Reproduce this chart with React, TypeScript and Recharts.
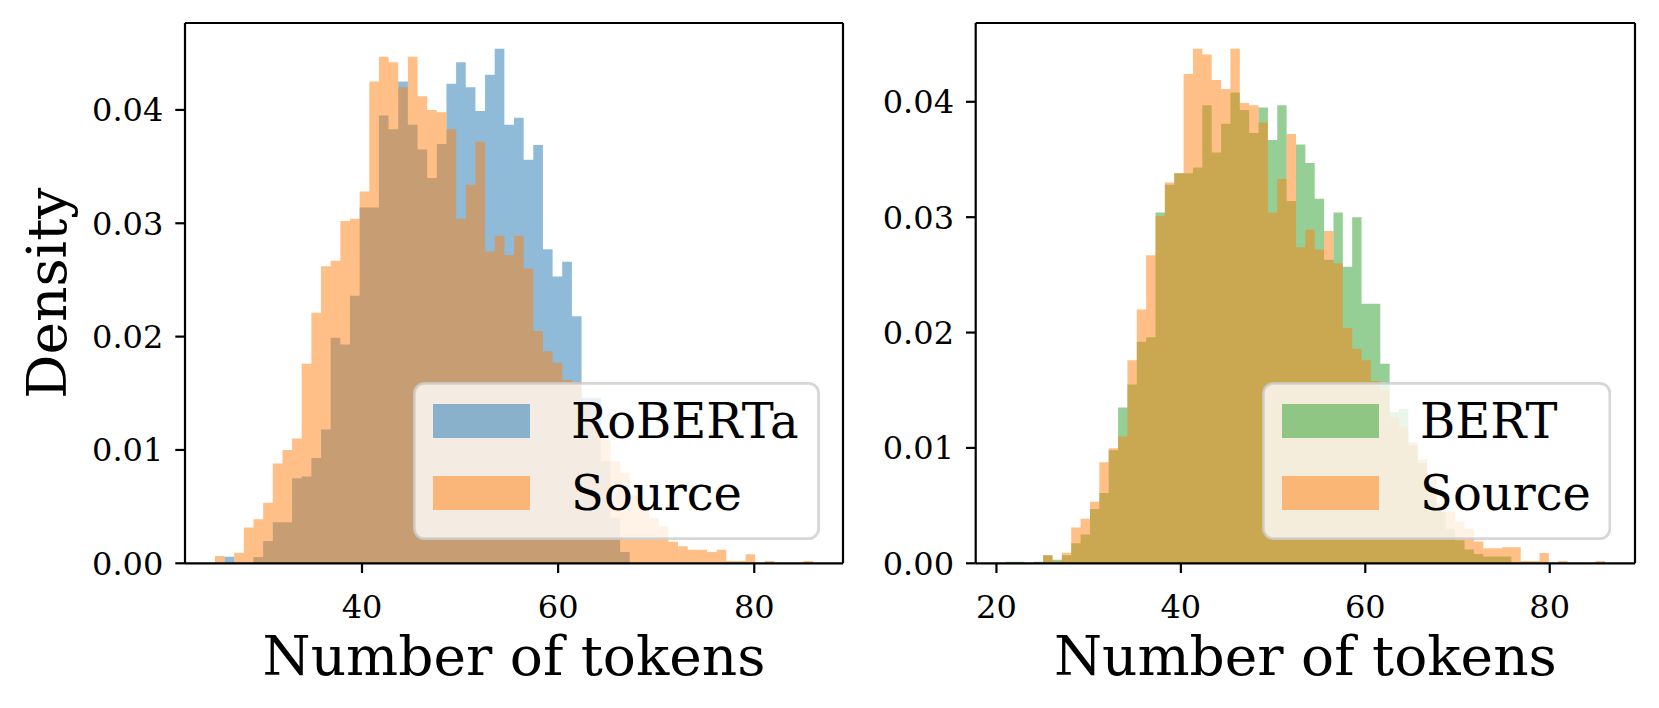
import { ComposedChart, Area, XAxis, YAxis, Legend, ReferenceLine } from "recharts";

const FONT = "'DejaVu Serif', serif";
const BLUE = "#1f77b4";
const ORANGE = "#ff7f0e";
const GREEN = "#2ca02c";

// left panel: 62 equal bins between 25 and 86 tokens
const robertaRange = [25, 86];
const roberta = [
  0, 0.00057, 0, 0, 0.00056, 0.00197, 0.00362, 0.00362, 0.0075, 0.00765,
  0.0093, 0.0118, 0.0199, 0.0193, 0.0236, 0.0314, 0.0314, 0.0395, 0.0383, 0.0425,
  0.0387, 0.0365, 0.034, 0.037, 0.0423, 0.0442, 0.042, 0.0399, 0.0431, 0.0454,
  0.0387, 0.0393, 0.0356, 0.0369, 0.0277, 0.0253, 0.0266, 0.0218, 0.0146, 0.0146,
  0.009, 0.004, 0.001, 0, 0, 0, 0, 0, 0, 0,
  0, 0, 0, 0, 0, 0, 0, 0, 0, 0,
  0, 0,
];
const robertaSource = [
  0.00064, 0, 0.00094, 0.00315, 0.00389, 0.00535, 0.0088, 0.01, 0.011, 0.0176,
  0.0221, 0.0262, 0.0267, 0.0302, 0.0304, 0.0328, 0.0425, 0.0447, 0.0442, 0.042,
  0.0447, 0.0412, 0.04, 0.0398, 0.0383, 0.0304, 0.0334, 0.0372, 0.0275, 0.0289,
  0.0272, 0.0289, 0.026, 0.0205, 0.0187, 0.0177, 0.0162, 0.016, 0.014, 0.012,
  0.011, 0.009, 0.008, 0.006, 0.005, 0.004, 0.0033, 0.0019, 0.0015, 0.0012,
  0.0012, 0.001, 0.0012, 0.0002, 0.0002, 0.0008, 0, 0.0002, 0, 0,
  0, 0.0002,
];

// right panel: 64 equal bins between 21 and 86 tokens
const bertRange = [21, 86];
const bert = [
  0.00014, 0.00014, 0, 0.00014, 0.0007, 0.0003, 0.0007, 0.00173, 0.0025, 0.0047,
  0.0061, 0.0098, 0.0135, 0.0155, 0.0192, 0.0196, 0.0304, 0.0328, 0.0338, 0.0338,
  0.0343, 0.0397, 0.0356, 0.0381, 0.0408, 0.0393, 0.0373, 0.0395, 0.0367, 0.0397,
  0.0314, 0.0363, 0.0347, 0.0316, 0.0263, 0.0304, 0.0257, 0.03, 0.0225, 0.0225,
  0.0173, 0.0131, 0.0134, 0.0102, 0.0087, 0.0065, 0.0045, 0.003, 0.002, 0.0012,
  0.0008, 0.0006, 0.0006, 0.0006, 0, 0, 0, 0, 0, 0,
  0, 0, 0, 0,
];
const bertSource = [
  0, 0, 0, 0, 0.0007, 0.00016, 0.00092, 0.0031, 0.00387, 0.00534,
  0.00876, 0.00997, 0.011, 0.0176, 0.022, 0.0267, 0.0301, 0.033, 0.0338, 0.0424,
  0.0446, 0.0441, 0.0419, 0.0411, 0.0446, 0.0399, 0.0397, 0.0382, 0.0304, 0.0333,
  0.0372, 0.0274, 0.0289, 0.0272, 0.0288, 0.026, 0.0204, 0.0186, 0.0176, 0.0158,
  0.015, 0.0127, 0.0118, 0.0105, 0.009, 0.0077, 0.0052, 0.0045, 0.0036, 0.003,
  0.0019, 0.0013, 0.0013, 0.0014, 0.0014, 0.0002, 0.0002, 0.0009, 0, 0.0002,
  0, 0, 0, 0.0002,
];

const leftTicksX = [40, 60, 80];
const rightTicksX = [20, 40, 60, 80];
const ticksY = [0, 0.01, 0.02, 0.03, 0.04];

type Series = { name: string; color: string; values: number[] };

const axisStyle = { stroke: "#000", strokeWidth: 2.2 };
const tickStyle = { fill: "#000", fontSize: 32, fontFamily: FONT };

function HistLegend({ series, width }: { series: Series[]; width: number }) {
  return (
    <svg width={width} height={158} style={{ display: "block" }}>
      <rect x={1.4} y={1.4} width={width - 2.8} height={155.2} rx={10}
        fill="#fff" fillOpacity={0.8} stroke="#ccc" strokeOpacity={0.8} strokeWidth={2.8} />
      {series.map((s, i) => (
        <g key={s.name}>
          <rect x={20} y={22 + i * 72} width={97} height={34} fill={s.color} fillOpacity={0.5} />
          <text x={158} y={56 + i * 72} fontSize={48} fontFamily={FONT} fill="#000">{s.name}</text>
        </g>
      ))}
    </svg>
  );
}

function Panel(props: {
  left: number; width: number; yAxisWidth: number; range: number[];
  series: Series[]; ticksX: number[]; yLabel?: string;
  legendLeft: number; legendWidth: number;
}) {
  const { range, series } = props;
  const n = series[0].values.length;
  const w = (range[1] - range[0]) / n;
  const rows: Record<string, number>[] = [];
  for (let i = 0; i <= n; i++) {
    const row: Record<string, number> = { x: range[0] + i * w };
    series.forEach((s, j) => { row["s" + j] = s.values[i] ?? 0; });
    rows.push(row);
  }
  const span = range[1] - range[0];
  const xDomain = [range[0] - 0.05 * span, range[1] + 0.05 * span];
  const yMax = 1.05 * Math.max(...series.flatMap((s) => s.values));

  return (
    <div style={{ position: "absolute", left: props.left, top: 0 }}>
      <ComposedChart width={props.width} height={708} data={rows}
        margin={{ top: 23, right: 2, bottom: 0, left: 0 }}>
        <XAxis dataKey="x" type="number" domain={xDomain} allowDataOverflow ticks={props.ticksX}
          interval={0} height={144.7} tickSize={9.7} tickMargin={22}
          axisLine={axisStyle} tickLine={axisStyle} tick={tickStyle}
          label={(p: any) => (
            <text x={p.viewBox.x + p.viewBox.width / 2} y={p.viewBox.y + 111.5}
              textAnchor="middle" fontSize={55} fontFamily={FONT} fill="#000">Number of tokens</text>
          )} />
        <YAxis type="number" domain={[0, yMax]} allowDataOverflow ticks={ticksY} interval={0}
          width={props.yAxisWidth} tickSize={9.7} tickMargin={12}
          tickFormatter={(v: number) => v.toFixed(2)}
          axisLine={axisStyle} tickLine={axisStyle} tick={tickStyle}
          label={props.yLabel ? (p: any) => {
            const cx = 65.7;
            const cy = p.viewBox.y + p.viewBox.height / 2;
            return (
              <text x={cx} y={cy} transform={`rotate(-90, ${cx}, ${cy})`} textAnchor="middle"
                fontSize={55} fontFamily={FONT} fill="#000">{props.yLabel}</text>
            );
          } : undefined} />
        {series.map((s, j) => (
          <Area key={s.name} dataKey={"s" + j} name={s.name} type="stepAfter" baseValue={0}
            fill={s.color} fillOpacity={0.5} stroke="none" dot={false} activeDot={false}
            isAnimationActive={false} />
        ))}
        {/* top and right spines */}
        <ReferenceLine y={yMax} stroke="#000" strokeWidth={2.2} />
        <ReferenceLine x={xDomain[1]} stroke="#000" strokeWidth={2.2} />
        <Legend layout="vertical" align="center" verticalAlign="middle"
          wrapperStyle={{ left: props.legendLeft, top: 382, width: props.legendWidth, height: 158 }}
          content={() => <HistLegend series={series} width={props.legendWidth} />} />
      </ComposedChart>
    </div>
  );
}

export default function App() {
  return (
    <div style={{ position: "absolute", left: 0, top: 0, width: 1659, height: 708, background: "#fff", fontFamily: FONT }}>
      <Panel left={0} width={845} yAxisWidth={185} range={robertaRange} ticksX={leftTicksX}
        yLabel="Density" legendLeft={413} legendWidth={407}
        series={[
          { name: "RoBERTa", color: BLUE, values: roberta },
          { name: "Source", color: ORANGE, values: robertaSource },
        ]} />
      <Panel left={850} width={787} yAxisWidth={125.7} range={bertRange} ticksX={rightTicksX}
        legendLeft={411.7} legendWidth={349.3}
        series={[
          { name: "BERT", color: GREEN, values: bert },
          { name: "Source", color: ORANGE, values: bertSource },
        ]} />
    </div>
  );
}
